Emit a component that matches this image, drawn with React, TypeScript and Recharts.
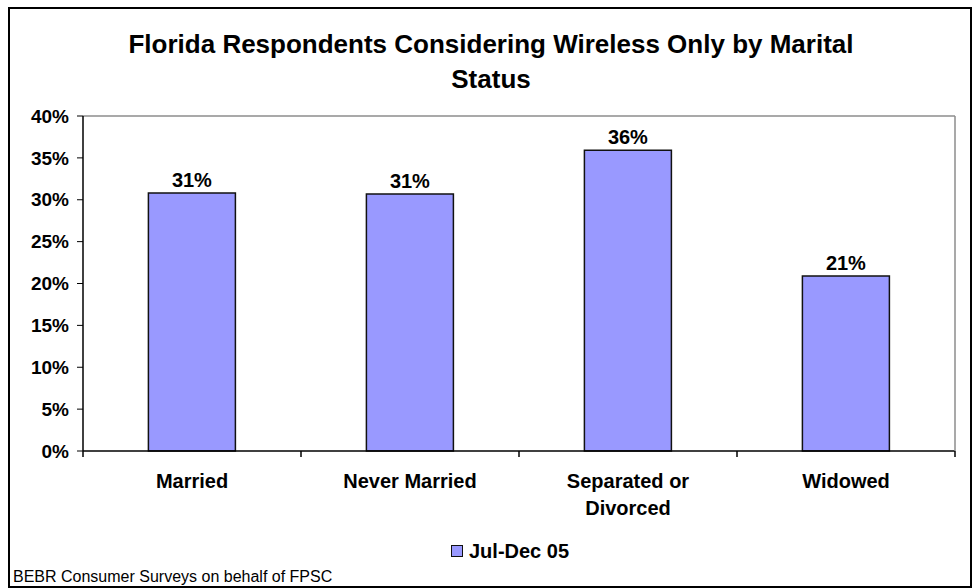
import React from 'react';
import { BarChart, Bar, XAxis, YAxis, Legend, LabelList, ReferenceLine } from 'recharts';

// Share of respondents considering going wireless only, by marital status
const categories = ['Married', 'Never Married', 'Separated or Divorced', 'Widowed'];
const julDec05 = [30.8, 30.7, 35.9, 20.9];
const yTicks = [0, 5, 10, 15, 20, 25, 30, 35, 40];
const seriesName = 'Jul-Dec 05';

const data = categories.map((name, i) => ({ name, value: julDec05[i] }));

const FONT = '"Liberation Sans", Arial, sans-serif';
const BAR_FILL = '#9999FF';
const TICK_LEN = 6;

// Simple greedy word wrap for category labels
function wrapLabel(text: string, maxChars: number): string[] {
  const words = text.split(' ');
  const lines: string[] = [];
  let cur = '';
  for (const w of words) {
    const next = cur ? cur + ' ' + w : w;
    if (next.length > maxChars && cur) {
      lines.push(cur);
      cur = w;
    } else {
      cur = next;
    }
  }
  if (cur) lines.push(cur);
  return lines;
}

// Category label plus tick marks on the band edges (between categories)
const CategoryTick = (props: any) => {
  const { x, y, payload, index, visibleTicksCount } = props;
  const half = typeof payload.offset === 'number' && payload.offset > 0 ? payload.offset : 109;
  const lines = wrapLabel(String(payload.value), 13);
  const isLast = index === (visibleTicksCount ?? categories.length) - 1;
  return (
    <g>
      <line x1={x - half} x2={x - half} y1={y} y2={y + TICK_LEN} stroke="#000" strokeWidth={1.5} />
      {isLast && (
        <line x1={x + half} x2={x + half} y1={y} y2={y + TICK_LEN} stroke="#000" strokeWidth={1.5} />
      )}
      <text
        x={x}
        y={y}
        textAnchor="middle"
        fill="#000"
        style={{ fontFamily: FONT, fontSize: 20, fontWeight: 'bold' }}
      >
        {lines.map((l, i) => (
          <tspan key={i} x={x} dy={i === 0 ? 37 : 27}>
            {l}
          </tspan>
        ))}
      </text>
    </g>
  );
};

const LegendContent = (props: any) => {
  const items = props.payload || [];
  return (
    <div style={{ display: 'flex', alignItems: 'center', fontFamily: FONT }}>
      {items.map((it: any, i: number) => (
        <div key={i} style={{ display: 'flex', alignItems: 'center' }}>
          <span
            style={{
              display: 'inline-block',
              width: 12,
              height: 12,
              boxSizing: 'border-box',
              background: BAR_FILL,
              border: '1.5px solid #111',
              marginRight: 6,
            }}
          />
          <span style={{ fontSize: 20, fontWeight: 'bold', lineHeight: '24px', color: '#000' }}>
            {it.value}
          </span>
        </div>
      ))}
    </div>
  );
};

export default function App() {
  return (
    <div
      style={{
        position: 'absolute',
        left: 0,
        top: 0,
        width: 973,
        height: 588,
        background: '#fff',
        overflow: 'hidden',
      }}
    >
      <div
        style={{
          position: 'absolute',
          left: 8,
          top: 7,
          width: 964,
          height: 581,
          boxSizing: 'border-box',
          border: '2px solid #000',
        }}
      />
      <div
        style={{
          position: 'absolute',
          left: 111,
          top: 26.5,
          width: 760,
          textAlign: 'center',
          fontFamily: FONT,
          fontSize: 26,
          fontWeight: 'bold',
          lineHeight: '35px',
          color: '#000',
        }}
      >
        Florida Respondents Considering Wireless Only by Marital Status
      </div>
      <div
        style={{
          position: 'absolute',
          left: 13,
          top: 567.5,
          fontFamily: FONT,
          fontSize: 16,
          lineHeight: '18px',
          color: '#000',
          whiteSpace: 'nowrap',
        }}
      >
        BEBR Consumer Surveys on behalf of FPSC
      </div>
      <div style={{ position: 'absolute', left: 0, top: 0 }}>
        <BarChart
          width={973}
          height={588}
          data={data}
          margin={{ top: 116, right: 17, left: 0, bottom: 0 }}
          barCategoryGap="30%"
        >
          <XAxis
            dataKey="name"
            type="category"
            height={137}
            axisLine={{ stroke: '#000', strokeWidth: 1.5 }}
            tickLine={false}
            tickSize={0}
            tickMargin={0}
            interval={0}
            tick={CategoryTick}
          />
          <YAxis
            type="number"
            domain={[0, 40]}
            ticks={yTicks}
            width={83}
            tickFormatter={(v: number) => `${v}%`}
            tick={{ fill: '#000', fontFamily: FONT, fontSize: 19, fontWeight: 'bold' }}
            tickSize={6}
            tickMargin={8}
            axisLine={{ stroke: '#000', strokeWidth: 1.5 }}
            tickLine={{ stroke: '#000' }}
            interval={0}
          />
          {/* right-hand frame of the plot area */}
          <YAxis
            yAxisId="frame"
            orientation="right"
            type="number"
            domain={[0, 40]}
            width={1}
            tick={false}
            tickLine={false}
            axisLine={{ stroke: '#8c8c8c', strokeWidth: 1.5 }}
          />
          <ReferenceLine y={40} stroke="#8c8c8c" strokeWidth={1.5} />
          <Legend
            verticalAlign="middle"
            align="center"
            layout="horizontal"
            content={LegendContent}
            wrapperStyle={{ left: 451, top: 539, width: 'auto' }}
          />
          <Bar
            dataKey="value"
            name={seriesName}
            fill={BAR_FILL}
            stroke="#111"
            strokeWidth={1.5}
            isAnimationActive={false}
          >
            <LabelList
              dataKey="value"
              position="top"
              offset={6}
              formatter={(v: any) => `${Math.round(Number(v))}%`}
              style={{ fill: '#000', fontFamily: FONT, fontSize: 20, fontWeight: 'bold' }}
            />
          </Bar>
        </BarChart>
      </div>
    </div>
  );
}
